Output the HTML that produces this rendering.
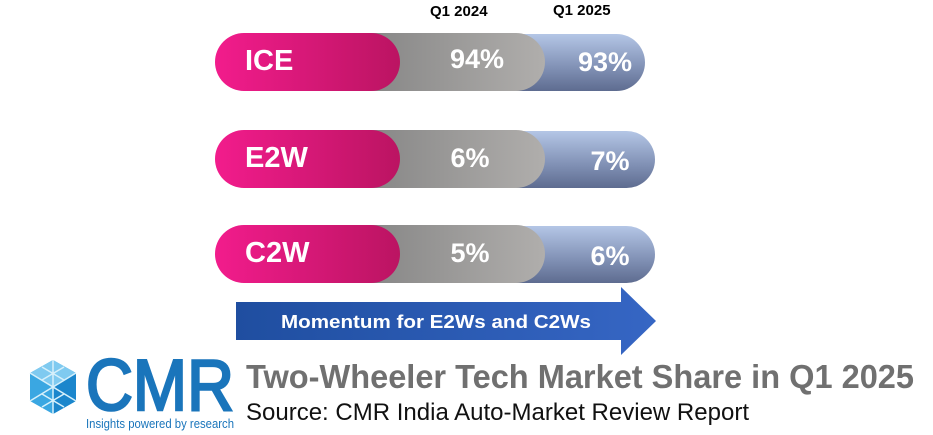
<!DOCTYPE html>
<html><head><meta charset="utf-8"><style>
body{margin:0;width:933px;height:435px;background:#fff;position:relative;overflow:hidden;font-family:"Liberation Sans",sans-serif}
.a{position:absolute}
.blue{background:linear-gradient(#b4c6e6,#8090b4 60%,#5e6c90);border-radius:0 29px 29px 0}
.gray{background:linear-gradient(90deg,#7e7e7e,#b0aeac);border-radius:0 29px 29px 0}
.pink{background:linear-gradient(90deg,#f21c8c,#bb1462);border-radius:29px}
.t{color:#fff;font-weight:bold;position:absolute}
.lab{font-size:29px;left:30px;top:12px}
.pct{font-size:27px;text-align:center;width:100px}
.h{font-weight:bold;font-size:15px;color:#000}
</style></head><body>
<div class="a h" style="left:430px;top:3px">Q1 2024</div>
<div class="a h" style="left:553px;top:2px">Q1 2025</div>

<div class="a blue" style="left:320px;top:34px;width:325px;height:57px"></div>
<div class="a gray" style="left:330px;top:33px;width:215px;height:58px"></div>
<div class="a pink" style="left:215px;top:33px;width:185px;height:58px"><span class="t lab">ICE</span></div>
<div class="t pct" style="left:427px;top:44px">94%</div>
<div class="t pct" style="left:555px;top:47px">93%</div>

<div class="a blue" style="left:320px;top:131px;width:335px;height:57px"></div>
<div class="a gray" style="left:330px;top:130px;width:215px;height:58px"></div>
<div class="a pink" style="left:215px;top:130px;width:185px;height:58px"><span class="t lab">E2W</span></div>
<div class="t pct" style="left:420px;top:143px">6%</div>
<div class="t pct" style="left:560px;top:146px">7%</div>

<div class="a blue" style="left:320px;top:226px;width:335px;height:57px"></div>
<div class="a gray" style="left:330px;top:225px;width:215px;height:58px"></div>
<div class="a pink" style="left:215px;top:225px;width:185px;height:58px"><span class="t lab">C2W</span></div>
<div class="t pct" style="left:420px;top:238px">5%</div>
<div class="t pct" style="left:560px;top:241px">6%</div>

<svg class="a" style="left:0;top:0" width="933" height="435">
<defs><linearGradient id="ar" x1="0" x2="1"><stop offset="0" stop-color="#1f4ea0"/><stop offset="1" stop-color="#3666c4"/></linearGradient></defs>
<polygon points="236,302 621,302 621,287 656,321 621,355 621,340 236,340" fill="url(#ar)"/>
<text x="281" y="328" font-family="Liberation Sans" font-weight="bold" font-size="18" fill="#fff" textLength="310" lengthAdjust="spacingAndGlyphs">Momentum for E2Ws and C2Ws</text>
<g transform="translate(53,387)">
<polygon points="0,-27 23,-14 23,14 0,27 -23,14 -23,-14" fill="#3aa7e2"/>
<polygon points="0,0 23,-14 23,14 0,27" fill="#1b86cc"/>
<polygon points="0,0 -23,-14 0,-27 23,-14" fill="#7fcaf0"/>
<path d="M-23,-14 L23,14 M23,-14 L-23,14 M0,-27 L0,27 M-11,-20 L11,-7 M11,-20 L-11,-7 M-11,7 L11,20 M11,7 L-11,20" stroke="#d6f0fb" stroke-width="1.5"/>
</g>
<text x="86" y="410" font-family="Liberation Sans" font-size="72" fill="#1a75bb" stroke="#1a75bb" stroke-width="2.5" textLength="148" lengthAdjust="spacingAndGlyphs">CMR</text>
<text x="86" y="428" font-family="Liberation Sans" font-size="13" fill="#1a75bb" textLength="148" lengthAdjust="spacingAndGlyphs">Insights powered by research</text>
<text x="246" y="388" font-family="Liberation Sans" font-weight="bold" font-size="33" fill="#707070" textLength="668" lengthAdjust="spacingAndGlyphs">Two-Wheeler Tech Market Share in Q1 2025</text>
<text x="246" y="420" font-family="Liberation Sans" font-size="24" fill="#111" textLength="503" lengthAdjust="spacingAndGlyphs">Source: CMR India Auto-Market Review Report</text>
</svg>
</body></html>
